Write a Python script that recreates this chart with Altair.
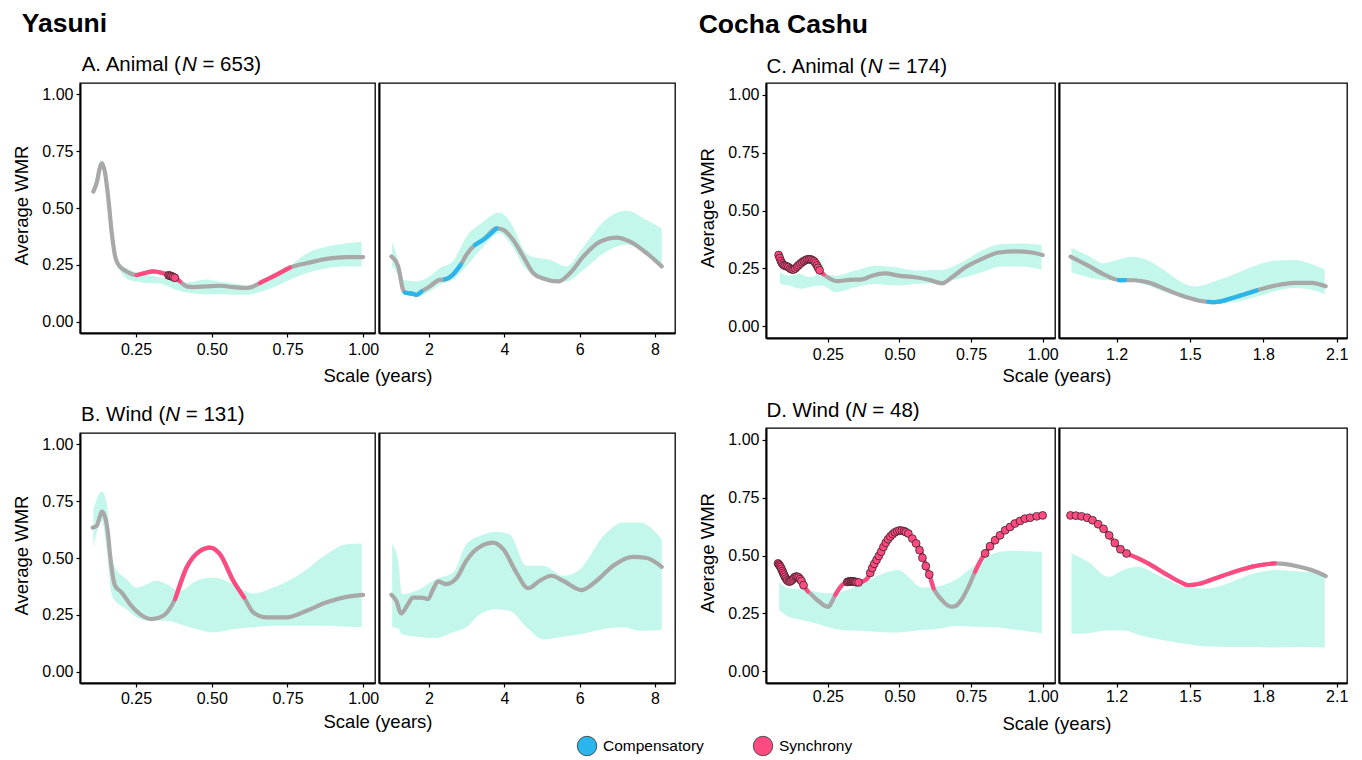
import altair as alt
import pandas as pd

FONT = "Liberation Sans"
PINK = "#FF4B82"
BLUE = "#2AB6EC"
GRAY = "#A8A8A8"
BAND = "#C4F7EC"
Y_TICKS = [0.0, 0.25, 0.5, 0.75, 1.0]

# ---------------- A. Yasuni, Animal : short scales ----------------
a1_x = [0.109, 0.122, 0.131, 0.138, 0.148, 0.159, 0.170, 0.181, 0.192, 0.205, 0.222, 0.252, 0.285, 0.307, 0.340,
        0.373, 0.395, 0.417, 0.439, 0.483, 0.527, 0.571, 0.615, 0.637, 0.659, 0.703, 0.758, 0.813, 0.879, 0.945, 1.000]
a1_y = [0.572, 0.620, 0.680, 0.696, 0.652, 0.535, 0.389, 0.287, 0.250, 0.232, 0.218, 0.205, 0.216, 0.221, 0.213,
        0.199, 0.177, 0.155, 0.152, 0.155, 0.158, 0.152, 0.148, 0.155, 0.170, 0.199, 0.238, 0.257, 0.276, 0.284, 0.284]
a1_s = "nnnnnnnnnnnssssssnnnnnnnsssnnnn"
a1_px = [0.357, 0.362, 0.367, 0.372, 0.378]
a1_py = [0.204, 0.202, 0.200, 0.197, 0.193]
a1_bx = [0.109, 0.137, 0.164, 0.181, 0.197, 0.219, 0.252, 0.285, 0.330, 0.373, 0.417, 0.483, 0.527, 0.571, 0.615,
         0.659, 0.703, 0.758, 0.813, 0.879, 0.945, 0.995]
a1_lo = [0.555, 0.680, 0.520, 0.280, 0.225, 0.190, 0.175, 0.170, 0.168, 0.145, 0.128, 0.120, 0.120, 0.118, 0.118,
         0.130, 0.150, 0.184, 0.213, 0.235, 0.243, 0.243]
a1_hi = [0.585, 0.710, 0.550, 0.310, 0.255, 0.235, 0.215, 0.205, 0.195, 0.180, 0.172, 0.185, 0.175, 0.168, 0.160,
         0.170, 0.200, 0.243, 0.300, 0.330, 0.345, 0.352]

# ---------------- A. Yasuni, Animal : long scales ----------------
a2_x = [1.00, 1.18, 1.31, 1.36, 1.575, 1.66, 1.80, 2.02, 2.28, 2.42, 2.55, 2.84, 2.99, 3.22, 3.44, 3.79, 3.97,
        4.23, 4.50, 4.77, 5.03, 5.43, 5.74, 6.10, 6.54, 6.98, 7.34, 7.78, 8.18]
a2_y = [0.287, 0.243, 0.140, 0.128, 0.122, 0.118, 0.133, 0.155, 0.184, 0.186, 0.195, 0.250, 0.294, 0.338, 0.360,
        0.410, 0.404, 0.360, 0.287, 0.213, 0.190, 0.177, 0.213, 0.287, 0.352, 0.370, 0.352, 0.301, 0.243]
a2_s = "nnnccccnncccncccnnnnnnnnnnnnn"
a2_px = []
a2_py = []
a2_bx = [1.02, 1.13, 1.31, 1.66, 2.02, 2.28, 2.63, 2.99, 3.44, 3.88, 4.15, 4.59, 4.77, 5.21, 5.65, 6.10, 6.63,
         7.25, 7.78, 8.18]
a2_lo = [0.243, 0.220, 0.133, 0.111, 0.133, 0.162, 0.184, 0.243, 0.330, 0.389, 0.345, 0.228, 0.206, 0.184, 0.177,
         0.228, 0.300, 0.338, 0.300, 0.235]
a2_hi = [0.352, 0.300, 0.184, 0.177, 0.200, 0.235, 0.265, 0.374, 0.440, 0.480, 0.440, 0.300, 0.284, 0.272, 0.243,
         0.330, 0.440, 0.488, 0.447, 0.410]

# ---------------- B. Yasuni, Wind : short scales ----------------
b1_x = [0.107, 0.120, 0.130, 0.137, 0.145, 0.151, 0.158, 0.164, 0.172, 0.181, 0.203, 0.230, 0.263, 0.302, 0.340,
        0.379, 0.417, 0.461, 0.494, 0.527, 0.571, 0.607, 0.637, 0.681, 0.747, 0.813, 0.879, 0.945, 1.000]
b1_y = [0.634, 0.641, 0.680, 0.704, 0.690, 0.663, 0.600, 0.517, 0.430, 0.378, 0.348, 0.297, 0.253, 0.231, 0.246,
        0.319, 0.458, 0.531, 0.546, 0.517, 0.400, 0.326, 0.261, 0.239, 0.239, 0.268, 0.305, 0.329, 0.338]
b1_s = "nnnnnnnnnnnnnnnsssssssnnnnnnn"
b1_px = []
b1_py = []
b1_bx = [0.109, 0.137, 0.152, 0.170, 0.181, 0.219, 0.252, 0.285, 0.318, 0.351, 0.395, 0.450, 0.505, 0.571, 0.637,
         0.703, 0.791, 0.879, 0.945, 0.995]
b1_lo = [0.546, 0.663, 0.550, 0.341, 0.312, 0.275, 0.239, 0.224, 0.224, 0.224, 0.209, 0.187, 0.173, 0.187, 0.195,
         0.202, 0.202, 0.202, 0.198, 0.195]
b1_hi = [0.714, 0.792, 0.750, 0.517, 0.458, 0.407, 0.370, 0.385, 0.400, 0.385, 0.356, 0.400, 0.414, 0.385, 0.344,
         0.370, 0.429, 0.517, 0.561, 0.564]

# ---------------- B. Yasuni, Wind : long scales ----------------
b2_x = [1.00, 1.13, 1.26, 1.44, 1.57, 1.80, 1.97, 2.11, 2.24, 2.46, 2.73, 2.99, 3.26, 3.70, 3.97, 4.32, 4.63,
        4.94, 5.25, 5.56, 6.05, 6.45, 6.89, 7.42, 7.78, 8.18]
b2_y = [0.338, 0.312, 0.256, 0.297, 0.326, 0.326, 0.319, 0.363, 0.397, 0.385, 0.411, 0.488, 0.539, 0.568, 0.539,
        0.436, 0.367, 0.400, 0.422, 0.400, 0.359, 0.400, 0.466, 0.505, 0.500, 0.461]
b2_s = "nnnnnnnnnnnnnnnnnnnnnnnnnn"
b2_px = []
b2_py = []
b2_bx = [1.02, 1.18, 1.28, 1.66, 2.19, 2.64, 2.99, 3.35, 3.79, 4.14, 4.59, 5.03, 5.56, 6.01, 6.63, 7.16, 7.60, 8.18]
b2_lo = [0.195, 0.190, 0.165, 0.154, 0.148, 0.173, 0.195, 0.253, 0.275, 0.268, 0.195, 0.143, 0.154, 0.165, 0.187,
         0.195, 0.180, 0.183]
b2_hi = [0.561, 0.488, 0.341, 0.356, 0.407, 0.436, 0.561, 0.597, 0.616, 0.605, 0.466, 0.466, 0.422, 0.451, 0.597,
         0.656, 0.656, 0.583]

# ---------------- C. Cocha Cashu, Animal : short scales ----------------
c1_x = [0.077, 0.085, 0.097, 0.108, 0.120, 0.132, 0.149, 0.166, 0.184, 0.201, 0.213, 0.221, 0.235, 0.253, 0.283,
        0.323, 0.370, 0.404, 0.451, 0.497, 0.555, 0.602, 0.648, 0.683, 0.730, 0.788, 0.846, 0.904, 0.962, 1.000]
c1_y = [0.312, 0.284, 0.262, 0.258, 0.248, 0.244, 0.262, 0.281, 0.291, 0.284, 0.262, 0.241, 0.225, 0.209, 0.195,
        0.201, 0.203, 0.219, 0.229, 0.219, 0.212, 0.201, 0.186, 0.212, 0.255, 0.291, 0.319, 0.324, 0.319, 0.308]
c1_s = "sssssssssssssnnnnnnnnnnnnnnnnn"
c1_px = [0.078, 0.082, 0.086, 0.090, 0.095, 0.100, 0.106, 0.112, 0.118, 0.124, 0.130, 0.136, 0.142, 0.148,
         0.154, 0.160, 0.166, 0.172, 0.178, 0.184, 0.190, 0.196, 0.202, 0.207, 0.212, 0.216, 0.221]
c1_py = [0.308, 0.295, 0.282, 0.272, 0.265, 0.262, 0.259, 0.256, 0.250, 0.246, 0.245, 0.250, 0.257, 0.264,
         0.271, 0.277, 0.282, 0.286, 0.289, 0.290, 0.289, 0.286, 0.281, 0.273, 0.263, 0.253, 0.242]
c1_bx = [0.082, 0.114, 0.155, 0.184, 0.230, 0.277, 0.346, 0.416, 0.486, 0.555, 0.648, 0.718, 0.788, 0.857,
         0.927, 0.996]
c1_lo = [0.183, 0.176, 0.162, 0.169, 0.176, 0.148, 0.169, 0.183, 0.176, 0.183, 0.191, 0.209, 0.234, 0.258,
         0.258, 0.244]
c1_hi = [0.234, 0.219, 0.226, 0.212, 0.226, 0.219, 0.241, 0.262, 0.255, 0.241, 0.244, 0.277, 0.327, 0.355,
         0.358, 0.352]

# ---------------- C. Cocha Cashu, Animal : long scales ----------------
c2_x = [1.012, 1.084, 1.152, 1.210, 1.235, 1.275, 1.329, 1.397, 1.466, 1.534, 1.575, 1.602, 1.683, 1.772, 1.847,
        1.929, 1.997, 2.055]
c2_y = [0.301, 0.262, 0.222, 0.200, 0.200, 0.199, 0.190, 0.162, 0.133, 0.112, 0.106, 0.105, 0.126, 0.155, 0.176,
        0.188, 0.188, 0.173]
c2_s = "nnnccnnnnnccccnnnn"
c2_px = []
c2_py = []
c2_bx = [1.016, 1.084, 1.146, 1.193, 1.261, 1.329, 1.397, 1.466, 1.520, 1.602, 1.684, 1.765, 1.847, 1.929,
         1.997, 2.051]
c2_lo = [0.234, 0.212, 0.200, 0.198, 0.195, 0.176, 0.148, 0.126, 0.112, 0.097, 0.105, 0.126, 0.152, 0.166,
         0.158, 0.140]
c2_hi = [0.338, 0.305, 0.272, 0.284, 0.301, 0.284, 0.241, 0.190, 0.172, 0.195, 0.226, 0.262, 0.284, 0.287,
         0.269, 0.246]

# ---------------- D. Cocha Cashu, Wind : short scales ----------------
d1_x = [0.076, 0.085, 0.095, 0.104, 0.113, 0.124, 0.136, 0.148, 0.158, 0.165,
        0.180, 0.190, 0.206, 0.225, 0.241, 0.252, 0.264, 0.276, 0.299, 0.316,
        0.335, 0.357, 0.375, 0.390, 0.398, 0.409, 0.421, 0.433, 0.444, 0.462,
        0.479, 0.497, 0.514, 0.531, 0.545, 0.560, 0.572, 0.584, 0.592, 0.604,
        0.619, 0.630, 0.648, 0.665, 0.683, 0.700, 0.712, 0.741, 0.764, 0.781,
        0.799, 0.816, 0.834, 0.851, 0.869, 0.886, 0.903, 0.921, 0.938, 0.956, 0.979, 1.000]
d1_y = [0.466, 0.450, 0.425, 0.400, 0.387, 0.392, 0.408, 0.405, 0.390, 0.372,
        0.345, 0.335, 0.315, 0.296, 0.282, 0.279, 0.300, 0.330, 0.372, 0.385,
        0.388, 0.385, 0.390, 0.405, 0.425, 0.458, 0.483, 0.509, 0.537, 0.573,
        0.595, 0.607, 0.608, 0.595, 0.573, 0.552, 0.523, 0.490, 0.454, 0.418,
        0.358, 0.335, 0.308, 0.287, 0.279, 0.285, 0.301, 0.365, 0.430, 0.473,
        0.509, 0.540, 0.566, 0.587, 0.609, 0.623, 0.638, 0.649, 0.659, 0.663, 0.669, 0.673]
d1_s = "sssssssssss" + "nnnnnn" + "ssssssssssssssssssssssss" + "nnnnnnn" + "ssssssssssssss"
d1_px = [0.076, 0.079, 0.082, 0.085, 0.088, 0.091, 0.094, 0.097, 0.100, 0.104, 0.108, 0.113, 0.118, 0.123,
         0.128, 0.133, 0.138, 0.143, 0.148, 0.153, 0.158, 0.165,
         0.318, 0.322, 0.326, 0.330, 0.334, 0.338, 0.342, 0.346, 0.350, 0.357,
         0.398, 0.405, 0.412, 0.420, 0.428, 0.436, 0.444, 0.452, 0.460, 0.468, 0.476, 0.484, 0.492, 0.500,
         0.508, 0.516, 0.522, 0.531, 0.545, 0.558, 0.570, 0.580, 0.592, 0.604,
         0.799, 0.816, 0.834, 0.851, 0.869, 0.886, 0.903, 0.921, 0.938, 0.956, 0.979, 1.000]
d1_py = [0.466, 0.461, 0.456, 0.450, 0.442, 0.433, 0.425, 0.417, 0.408, 0.400, 0.393, 0.388, 0.388, 0.392,
         0.398, 0.405, 0.409, 0.409, 0.405, 0.398, 0.390, 0.372,
         0.386, 0.387, 0.388, 0.388, 0.388, 0.388, 0.387, 0.386, 0.385, 0.384,
         0.425, 0.446, 0.464, 0.481, 0.498, 0.516, 0.537, 0.555, 0.570, 0.582, 0.592, 0.600, 0.605, 0.608,
         0.607, 0.605, 0.601, 0.595, 0.573, 0.552, 0.523, 0.490, 0.454, 0.418,
         0.509, 0.540, 0.566, 0.587, 0.609, 0.623, 0.638, 0.649, 0.659, 0.663, 0.669, 0.673]
d1_bx = [0.080, 0.113, 0.159, 0.206, 0.252, 0.299, 0.345, 0.403, 0.462, 0.497, 0.531, 0.578, 0.624, 0.694,
         0.764, 0.834, 0.892, 0.997]
d1_lo = [0.265, 0.236, 0.222, 0.208, 0.191, 0.179, 0.176, 0.172, 0.168, 0.168, 0.172, 0.179, 0.182, 0.196,
         0.193, 0.191, 0.182, 0.165]
d1_hi = [0.383, 0.358, 0.354, 0.344, 0.337, 0.344, 0.365, 0.401, 0.430, 0.437, 0.408, 0.362, 0.365, 0.394,
         0.458, 0.511, 0.520, 0.516]

# ---------------- D. Cocha Cashu, Wind : long scales ----------------
d2_x = [1.012, 1.034, 1.057, 1.080, 1.102, 1.125, 1.147, 1.170, 1.193, 1.216, 1.241, 1.275, 1.329, 1.397,
        1.466, 1.493, 1.534, 1.602, 1.683, 1.765, 1.847, 1.929, 1.997, 2.055]
d2_y = [0.673, 0.672, 0.669, 0.663, 0.652, 0.635, 0.615, 0.587, 0.554, 0.527, 0.509, 0.494, 0.466, 0.423,
        0.383, 0.372, 0.377, 0.401, 0.430, 0.454, 0.466, 0.456, 0.437, 0.411]
d2_s = "sssssssssssssssssssssnnn"
d2_px = [1.012, 1.034, 1.057, 1.080, 1.102, 1.125, 1.147, 1.170, 1.193, 1.216, 1.241]
d2_py = [0.673, 0.672, 0.669, 0.663, 0.652, 0.635, 0.615, 0.587, 0.554, 0.527, 0.509]
d2_bx = [1.016, 1.084, 1.166, 1.234, 1.289, 1.370, 1.493, 1.574, 1.656, 1.765, 1.847, 1.956, 2.051]
d2_lo = [0.162, 0.165, 0.176, 0.176, 0.158, 0.139, 0.117, 0.107, 0.105, 0.105, 0.103, 0.105, 0.103]
d2_hi = [0.509, 0.473, 0.408, 0.440, 0.451, 0.415, 0.362, 0.358, 0.380, 0.423, 0.437, 0.430, 0.426]

legend_labels = ["Compensatory", "Synchrony"]

# Arial / Liberation Sans advance widths (1/1000 em) used to place the italic N
ADV = {' ': 278, '.': 278, '(': 333, ')': 333, '=': 584, 'A': 667, 'B': 667, 'C': 722, 'D': 722, 'N': 722,
       'W': 944, 'a': 556, 'd': 556, 'i': 222, 'l': 222, 'm': 833, 'n': 556}
for ch in "0123456789":
    ADV[ch] = 556

TITLE_SIZE = 20.5


def tw(s, size):
    return sum(ADV.get(c, 556) for c in s) * size / 1000.0


def text_layer(s, x, y, size, weight="normal", style="normal"):
    return alt.Chart(pd.DataFrame({"t": [s]})).mark_text(
        align="left", baseline="alphabetic", font=FONT, fontSize=size, fontWeight=weight,
        fontStyle=style, color="black").encode(x=alt.value(x), y=alt.value(y), text="t:N")


def panel(lx, ly, ls, px, py, bx, blo, bhi, xdom, xticks, xfmt, w, h, left,
          pair_w=0, xtitle_y=40, xlabpad=4, title=None, group=None):
    xsc = alt.Scale(domain=xdom, nice=False, zero=False)
    ysc = alt.Scale(domain=[-0.05, 1.05], nice=False, zero=False)
    if left:
        xax = alt.Axis(values=xticks, format=xfmt, labelPadding=xlabpad, title="Scale (years)",
                       titleX=pair_w / 2.0, titleY=xtitle_y, titleAlign="center", titleBaseline="middle")
        yax = alt.Axis(values=Y_TICKS, format=".2f", labelPadding=3, title="Average WMR",
                       titleX=-58.3, titleY=h / 2.0 - 3, titleAngle=270, titleAlign="center",
                       titleBaseline="middle")
    else:
        xax = alt.Axis(values=xticks, format=xfmt, labelPadding=xlabpad, title=None)
        yax = alt.Axis(labels=False, ticks=False, title=None)
    X = alt.X("x:Q", scale=xsc, axis=xax)
    Y = alt.Y("y:Q", scale=ysc, axis=yax)

    bdf = pd.DataFrame({"x": bx, "lo": blo, "hi": bhi})
    layers = [alt.Chart(bdf).mark_area(color=BAND, opacity=1, interpolate="monotone").encode(
        x=X, y=alt.Y("lo:Q", scale=ysc, axis=yax), y2="hi:Q")]

    ldf = pd.DataFrame({"x": lx, "y": ly})
    layers.append(alt.Chart(ldf).mark_line(color=GRAY, strokeWidth=4.2, interpolate="monotone",
                                           strokeCap="round").encode(x=X, y=Y))
    rows = []
    seg = 0
    prev = "n"
    for x, y, s in zip(lx, ly, ls):
        if s != "n":
            if s != prev:
                seg += 1
            rows.append({"x": x, "y": y, "kind": s, "seg": seg})
        prev = s
    if rows:
        sdf = pd.DataFrame(rows)
        layers.append(alt.Chart(sdf).mark_line(strokeWidth=4.2, interpolate="monotone",
                                               strokeCap="round").encode(
            x=X, y=Y, detail="seg:N",
            color=alt.Color("kind:N", scale=alt.Scale(domain=["s", "c"], range=[PINK, BLUE]), legend=None)))
    if px:
        pdf = pd.DataFrame({"x": px, "y": py})
        layers.append(alt.Chart(pdf).mark_circle(size=62, color=PINK, opacity=1, stroke="#1a1a1a",
                                                 strokeWidth=0.7).encode(x=X, y=Y))
    if title:
        tx, ty, parts = title
        cx = tx
        for txt, ital in parts:
            lead = len(txt) - len(txt.lstrip(" "))
            cx += tw(" " * lead, TITLE_SIZE)
            core = txt.strip(" ")
            layers.append(text_layer(core, cx, ty, TITLE_SIZE, style="italic" if ital else "normal"))
            cx += tw(txt[lead:], TITLE_SIZE)
    if group:
        gtxt, gx, gy = group
        layers.append(text_layer(gtxt, gx, gy, 26.5, weight="bold"))
    return alt.layer(*layers).properties(width=w, height=h)


LT = [0.25, 0.5, 0.75, 1.0]
A1 = panel(a1_x, a1_y, a1_s, a1_px, a1_py, a1_bx, a1_lo, a1_hi, [0.065, 1.039], LT, ".2f", 295, 250, True,
           pair_w=595, xtitle_y=42, xlabpad=4,
           title=(1.7, -12.3, [("A. Animal (", False), ("N", True), (" = 653)", False)]),
           group=("Yasuni", -58.3, -51.3))
A2 = panel(a2_x, a2_y, a2_s, a2_px, a2_py, a2_bx, a2_lo, a2_hi, [0.671, 8.532], [2, 4, 6, 8], "d", 296, 250,
           False, xlabpad=4)
B1 = panel(b1_x, b1_y, b1_s, b1_px, b1_py, b1_bx, b1_lo, b1_hi, [0.065, 1.039], LT, ".2f", 295, 250, True,
           pair_w=595, xtitle_y=38.6, xlabpad=3,
           title=(1.0, -12.0, [("B. Wind (", False), ("N", True), (" = 131)", False)]))
B2 = panel(b2_x, b2_y, b2_s, b2_px, b2_py, b2_bx, b2_lo, b2_hi, [0.671, 8.532], [2, 4, 6, 8], "d", 296, 250,
           False, xlabpad=3)
C1 = panel(c1_x, c1_y, c1_s, c1_px, c1_py, c1_bx, c1_lo, c1_hi, [0.034, 1.043], LT, ".2f", 289, 255, True,
           pair_w=581, xtitle_y=37.5, xlabpad=4,
           title=(0.4, -10.0, [("C. Animal (", False), ("N", True), (" = 174)", False)]),
           group=("Cocha Cashu", -67.3, -50.0))
C2 = panel(c2_x, c2_y, c2_s, c2_px, c2_py, c2_bx, c2_lo, c2_hi, [0.965, 2.142], [1.2, 1.5, 1.8, 2.1], ".1f",
           288, 255, False, xlabpad=4)
D1 = panel(d1_x, d1_y, d1_s, d1_px, d1_py, d1_bx, d1_lo, d1_hi, [0.034, 1.043], LT, ".2f", 289, 255, True,
           pair_w=581, xtitle_y=40, xlabpad=1,
           title=(0.4, -11.0, [("D. Wind (", False), ("N", True), (" = 48)", False)]))
D2 = panel(d2_x, d2_y, d2_s, d2_px, d2_py, d2_bx, d2_lo, d2_hi, [0.965, 2.142], [1.2, 1.5, 1.8, 2.1], ".1f",
           288, 255, False, xlabpad=1)


def pair(l, r):
    return alt.hconcat(l, r, spacing=4, bounds="flush").resolve_scale(x="independent", y="independent")


left_col = alt.vconcat(pair(A1, A2), pair(B1, B2), spacing=18).resolve_scale(x="independent", y="independent")
right_col = alt.vconcat(pair(C1, C2), pair(D1, D2), spacing=14).resolve_scale(x="independent", y="independent")
main = alt.hconcat(left_col, right_col, spacing=22).resolve_scale(x="independent", y="independent")

leg_df = pd.DataFrame({"label": legend_labels})
LX = alt.X("label:N", scale=alt.Scale(type="point", domain=legend_labels, range=[507, 683], padding=0), axis=None)
leg_pts = alt.Chart(leg_df).mark_circle(size=380, opacity=1, stroke="#333333", strokeWidth=0.8).encode(
    x=LX, y=alt.value(10),
    fill=alt.Fill("label:N", scale=alt.Scale(domain=legend_labels, range=[BLUE, PINK]), legend=None))
leg_txt = alt.Chart(leg_df).mark_text(align="left", baseline="middle", dx=16, font=FONT, fontSize=15.5,
                                      color="black").encode(x=LX, y=alt.value(10), text="label:N")
legend = alt.layer(leg_pts, leg_txt).properties(width=800, height=20,
                                                view=alt.ViewBackground(stroke="transparent"))

chart = alt.vconcat(main, legend, spacing=0).resolve_scale(x="independent", y="independent").properties(
    padding={"left": 12, "top": 10, "right": 5, "bottom": 0}, background="white"
).configure_view(stroke="black", strokeWidth=1.3).configure_axis(
    grid=False, domainColor="black", domainWidth=2, tickColor="black", tickWidth=1.2, tickSize=4,
    labelColor="black", labelFont=FONT, labelFontSize=16, titleFont=FONT, titleFontSize=18.5,
    titleFontWeight="normal", titleColor="black"
)

chart.save("out.html", embed_options={"renderer": "svg", "actions": False})
